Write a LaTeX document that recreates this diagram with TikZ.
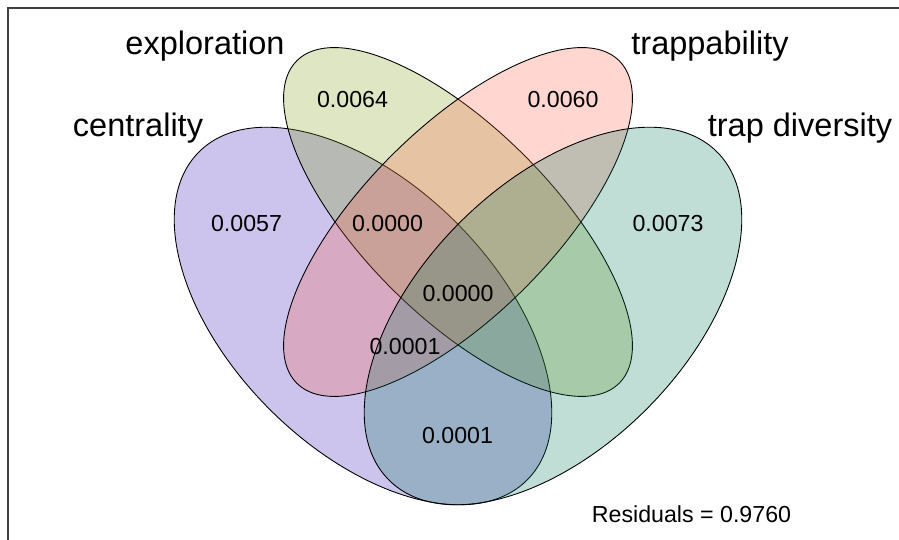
\documentclass[tikz,border=0pt]{standalone}
\usepackage{fontspec}
\setmainfont{Liberation Sans}
\usepackage{tikz}
\definecolor{centcol}{RGB}{51,19,179}
\definecolor{explcol}{RGB}{123,155,15}
\definecolor{trapcol}{RGB}{255,91,67}
\definecolor{divcol}{RGB}{3,119,91}

\begin{document}
\begin{tikzpicture}
[x=0.02cm,y=-0.02cm]
\tikzset{
	set/.style = {draw=black, line width=0.5pt, fill opacity=0.25},
	setname/.style = {anchor=base, inner sep=0pt, font=\fontsize{18.5}{22}\selectfont},
	fraction/.style = {anchor=base, inner sep=0pt, font=\fontsize{13.2}{16}\selectfont},
	frame/.style = {draw=black!75, line width=0.7pt}
}
\useasboundingbox (0,0) rectangle (899,540);

% the box of the plot
\draw[frame] (8,540) -- (8,8) -- (899,8);

% the four sets
\path[set, fill=centcol, rotate around={-45:(363,316)}] (363,316) ellipse (232 and 132);
\path[set, fill=explcol, rotate around={-45:(458,222)}] (458,222) ellipse (228 and 94);
\path[set, fill=trapcol, rotate around={45:(458,222)}] (458,222) ellipse (228 and 94);
\path[set, fill=divcol, rotate around={45:(553,316)}] (553,316) ellipse (232 and 132);

% names of the sets
\node(cent) [setname] at (138,137) {centrality};
\node(expl) [setname] at (205,55) {exploration};
\node(trap) [setname] at (710,55) {trappability};
\node(div) [setname] at (800,137) {trap diversity};

% fractions
\node(a) [fraction] at (352.5,108) {0.0064};
\node(b) [fraction] at (563,108) {0.0060};
\node(c) [fraction] at (246.5,232) {0.0057};
\node(d) [fraction] at (387.5,232) {0.0000};
\node(e) [fraction] at (668,232) {0.0073};
\node(f) [fraction] at (458,302) {0.0000};
\node(g) [fraction] at (405,355) {0.0001};
\node(h) [fraction] at (457.5,443) {0.0001};
\node(res) [fraction] at (691.5,522) {Residuals = 0.9760};
\end{tikzpicture}
\end{document}
